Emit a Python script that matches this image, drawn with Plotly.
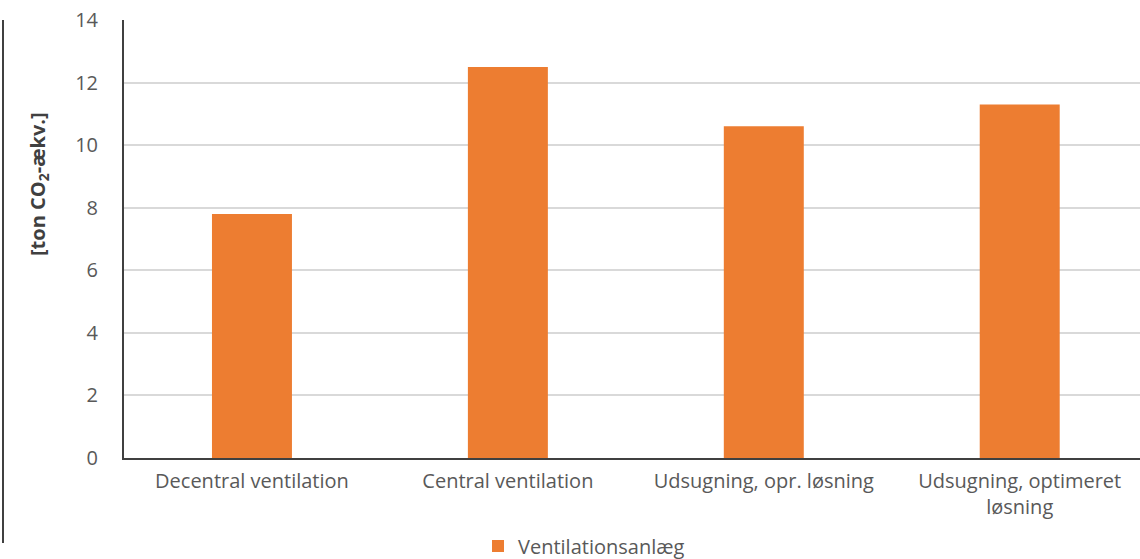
import plotly.graph_objects as go

categories = ["Decentral ventilation", "Central ventilation", "Udsugning, opr. løsning", "Udsugning, optimeret<br>løsning"]
values = [7.8, 12.5, 10.6, 11.3]
series_name = "Ventilationsanlæg"
y_ticks = [0, 2, 4, 6, 8, 10, 12, 14]

W, H = 1140, 559
L, T, B, R = 124, 20, 101, 0
pw = W - L - R
ph = H - T - B

FONT = "Open Sans"
FS = 20
fig = go.Figure()
fig.add_trace(go.Bar(
    x=categories, y=values, name=series_name,
    marker=dict(color="#ED7D31", line=dict(width=0)),
    showlegend=True,
))

fig.update_layout(
    width=W, height=H,
    margin=dict(l=L, r=R, t=T, b=B, autoexpand=False),
    paper_bgcolor="white", plot_bgcolor="white",
    bargap=0.6875,
    font=dict(family=FONT, size=FS, color="#595959"),
    showlegend=True,
    legend=dict(orientation="h", x=(584 - L) / pw, xanchor="center", y=(458 - 546) / ph, yanchor="middle",
                font=dict(size=FS, color="#595959"), itemwidth=30),
    xaxis=dict(range=[-0.5, 3.47], showgrid=False, showline=True, linecolor="#404040", linewidth=2,
               ticks="", ticklabelstandoff=4, tickfont=dict(size=FS, color="#595959")),
    yaxis=dict(range=[0, 14], tickvals=y_ticks, showgrid=True, gridcolor="#d9d9d9", gridwidth=2,
               showline=True, linecolor="#404040", linewidth=2, zeroline=False, ticks="",
               ticklabelstandoff=20, tickfont=dict(size=FS, color="#595959")),
)

fig.add_annotation(
    text="<b>[ton CO<sub>2</sub>-ækv.]</b>", textangle=-90,
    xref="paper", yref="paper", x=(38 - L) / pw, y=(458 - 184) / ph,
    xanchor="center", yanchor="middle", showarrow=False,
    font=dict(family=FONT, size=20, color="#404040"),
)
fig.add_shape(type="line", xref="paper", yref="paper",
              x0=(3 - L) / pw, x1=(3 - L) / pw, y0=1.0, y1=(458 - 543) / ph,
              line=dict(color="#404040", width=2))

fig.write_html("out.html")
